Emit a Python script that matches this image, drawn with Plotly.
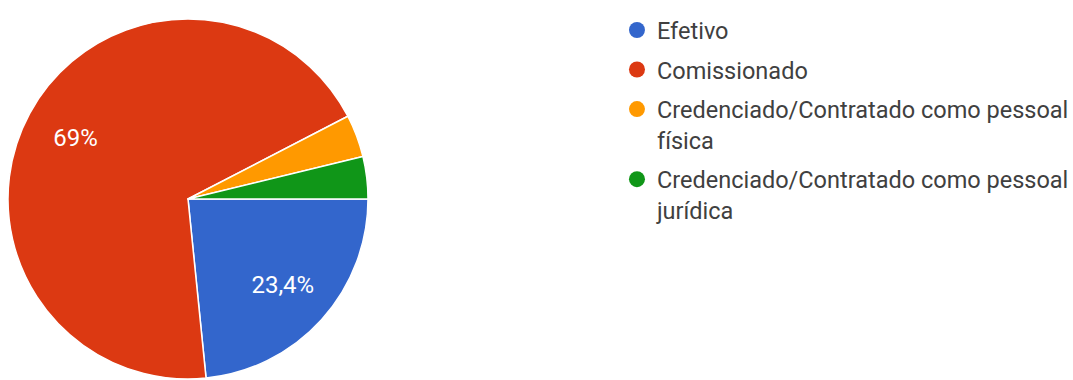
import plotly.graph_objects as go

# Response shares per employment type
labels = [
    "Efetivo",
    "Comissionado",
    "Credenciado/Contratado como pessoal física",
    "Credenciado/Contratado como pessoal jurídica",
]
legend_labels = [
    "Efetivo",
    "Comissionado",
    "Credenciado/Contratado como pessoal<br>física",
    "Credenciado/Contratado como pessoal<br>jurídica",
]
values = [23.4, 69.0, 3.8, 3.8]
colors = ["#3366cc", "#dc3912", "#ff9900", "#109618"]
show_pct = [True, True, False, False]

W, H = 1073, 380
pie_domain = dict(x=[8 / W, 368 / W], y=[0, 1])

fig = go.Figure()

# Filled slices
fig.add_trace(go.Pie(
    labels=labels,
    values=values,
    sort=False,
    direction="clockwise",
    rotation=90,
    marker=dict(colors=colors, line=dict(color="white", width=1.5)),
    textinfo="none",
    showlegend=False,
    hoverinfo="label+percent",
    domain=pie_domain,
))

# Percentage labels, placed in an outer ring of the same pie
fig.add_trace(go.Pie(
    labels=labels,
    values=values,
    sort=False,
    direction="clockwise",
    rotation=90,
    hole=0.42,
    marker=dict(colors=["rgba(0,0,0,0)"] * len(values), line=dict(width=0)),
    texttemplate=["%{percent}" if s else "" for s in show_pct],
    textposition="inside",
    insidetextorientation="horizontal",
    insidetextfont=dict(color="white", size=24, family="Roboto"),
    showlegend=False,
    hoverinfo="skip",
    domain=pie_domain,
))

# Legend entries with round swatches
for name, col in zip(legend_labels, colors):
    fig.add_trace(go.Scatter(
        x=[None], y=[None], mode="markers", name=name,
        marker=dict(symbol="circle", size=20, color=col),
        legendgroup=name,
    ))

fig.update_layout(
    width=W, height=H,
    margin=dict(l=0, r=0, t=19, b=1, autoexpand=False),
    paper_bgcolor="white",
    plot_bgcolor="white",
    separators=",.",
    xaxis=dict(visible=False),
    yaxis=dict(visible=False),
    showlegend=True,
    legend=dict(
        x=0.575, y=1.03, xanchor="left", yanchor="top",
        font=dict(family="Roboto", size=23.5, color="#404040"),
        valign="top",
        tracegroupgap=6,
        traceorder="grouped",
        maxheight=1,
    ),
)

fig.write_html("out.html")
